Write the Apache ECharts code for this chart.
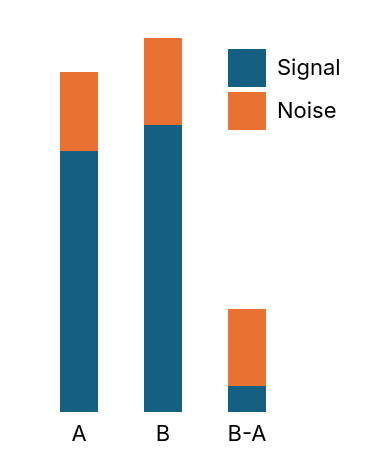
<!DOCTYPE html>
<html>
<head>
<meta charset="utf-8">
<script src="https://cdn.jsdelivr.net/npm/echarts@6/dist/echarts.min.js"></script>
<style>html,body{margin:0;padding:0;background:#fff;}#c{width:392px;height:476px;}</style>
</head>
<body>
<div id="c"></div>
<script>
const categories = ['A', 'B', 'B-A'];
const signal = [261, 287, 26];
const noise = [79, 87, 77];
const seriesNames = ['Signal', 'Noise'];

const chart = echarts.init(document.getElementById('c'), null, {renderer: 'canvas'});
const font = 'Inter';
chart.setOption({
  animation: false,
  grid: {left: 37, width: 252, top: 12, bottom: 64},
  xAxis: {
    type: 'category', data: categories,
    axisLine: {show: false}, axisTick: {show: false},
    axisLabel: {fontSize: 22, color: '#000', fontFamily: font, margin: 11}
  },
  yAxis: {type: 'value', min: 0, max: 400, show: false, splitLine: {show: false}},
  legend: {
    orient: 'vertical', left: 223, top: 44, itemWidth: 38, itemHeight: 38, itemGap: 5,
    icon: 'rect',
    textStyle: {fontSize: 22, color: '#000', fontFamily: font, padding: [0, 0, 0, 6]},
    data: seriesNames
  },
  series: [
    {name: seriesNames[0], type: 'bar', stack: 's', data: signal, barWidth: 38, itemStyle: {color: '#156082'}},
    {name: seriesNames[1], type: 'bar', stack: 's', data: noise, barWidth: 38, itemStyle: {color: '#E97132'}}
  ]
});
</script>
</body>
</html>
